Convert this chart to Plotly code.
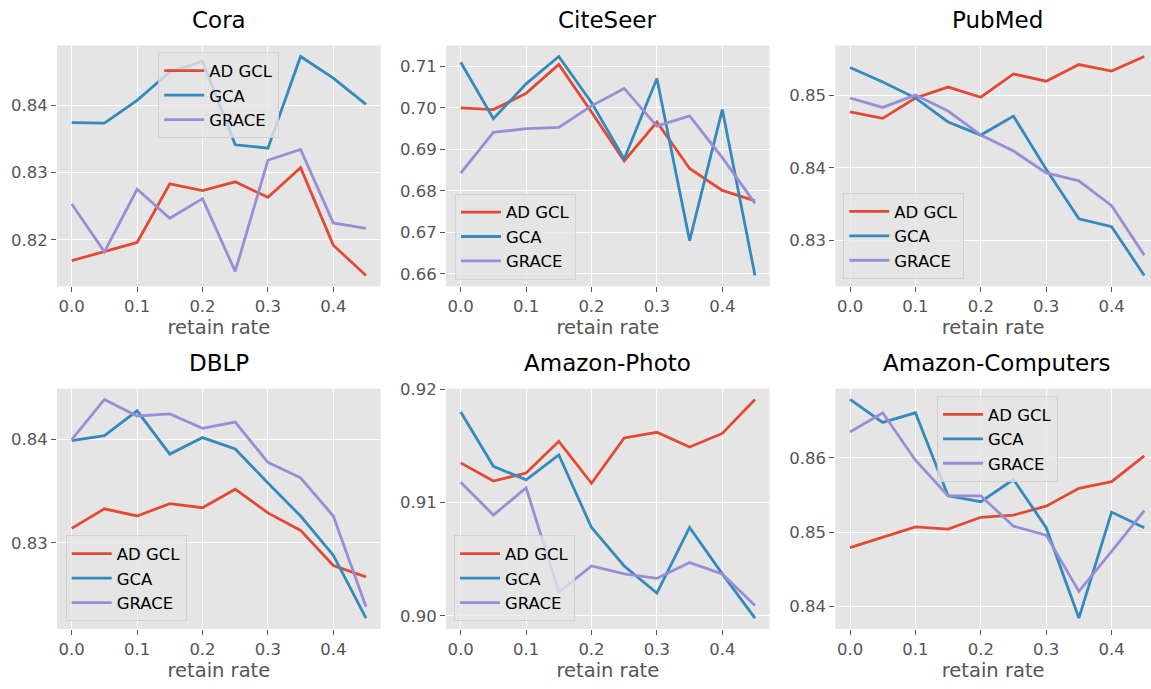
import plotly.graph_objects as go

retain_rate = [0.0, 0.05, 0.10, 0.15, 0.20, 0.25, 0.30, 0.35, 0.40, 0.45]
methods = ["AD GCL", "GCA", "GRACE"]
datasets = ["Cora", "CiteSeer", "PubMed", "DBLP", "Amazon-Photo", "Amazon-Computers"]

cora_adgcl = [0.8169, 0.8183, 0.8196, 0.8283, 0.8273, 0.8286, 0.8263, 0.8307, 0.8192, 0.8147]
cora_gca = [0.8374, 0.8373, 0.8407, 0.8449, 0.8465, 0.8341, 0.8336, 0.8472, 0.8440, 0.8401]
cora_grace = [0.8253, 0.8182, 0.8275, 0.8232, 0.8261, 0.8153, 0.8318, 0.8334, 0.8225, 0.8217]

citeseer_adgcl = [0.7000, 0.6996, 0.7035, 0.7105, 0.6990, 0.6872, 0.6966, 0.6854, 0.6801, 0.6776]
citeseer_gca = [0.7110, 0.6974, 0.7058, 0.7124, 0.7013, 0.6877, 0.7071, 0.6680, 0.6996, 0.6596]
citeseer_grace = [0.6843, 0.6941, 0.6950, 0.6953, 0.7005, 0.7047, 0.6956, 0.6981, 0.6880, 0.6770]

pubmed_adgcl = [0.8477, 0.8468, 0.8496, 0.8511, 0.8497, 0.8529, 0.8519, 0.8542, 0.8533, 0.8553]
pubmed_gca = [0.8538, 0.8518, 0.8496, 0.8463, 0.8445, 0.8471, 0.8398, 0.8330, 0.8319, 0.8252]
pubmed_grace = [0.8496, 0.8483, 0.8500, 0.8478, 0.8445, 0.8423, 0.8393, 0.8382, 0.8348, 0.8280]

dblp_adgcl = [0.8314, 0.8333, 0.8326, 0.8338, 0.8334, 0.8352, 0.8329, 0.8312, 0.8278, 0.8267]
dblp_gca = [0.8399, 0.8404, 0.8428, 0.8386, 0.8402, 0.8391, 0.8358, 0.8326, 0.8288, 0.8227]
dblp_grace = [0.8400, 0.8439, 0.8423, 0.8425, 0.8411, 0.8417, 0.8378, 0.8363, 0.8326, 0.8238]

photo_adgcl = [0.9135, 0.9119, 0.9126, 0.9154, 0.9117, 0.9157, 0.9162, 0.9149, 0.9161, 0.9191]
photo_gca = [0.9180, 0.9132, 0.9120, 0.9142, 0.9078, 0.9044, 0.9020, 0.9078, 0.9037, 0.8998]
photo_grace = [0.9118, 0.9089, 0.9113, 0.9021, 0.9044, 0.9037, 0.9033, 0.9047, 0.9037, 0.9009]

computers_adgcl = [0.8479, 0.8493, 0.8507, 0.8504, 0.8520, 0.8523, 0.8535, 0.8559, 0.8568, 0.8603]
computers_gca = [0.8679, 0.8648, 0.8661, 0.8549, 0.8541, 0.8571, 0.8506, 0.8384, 0.8527, 0.8506]
computers_grace = [0.8635, 0.8661, 0.8597, 0.8549, 0.8549, 0.8508, 0.8496, 0.8420, 0.8474, 0.8529]

series = [
    [cora_adgcl, cora_gca, cora_grace],
    [citeseer_adgcl, citeseer_gca, citeseer_grace],
    [pubmed_adgcl, pubmed_gca, pubmed_grace],
    [dblp_adgcl, dblp_gca, dblp_grace],
    [photo_adgcl, photo_gca, photo_grace],
    [computers_adgcl, computers_gca, computers_grace],
]

colors = ["#E24A33", "#348ABD", "#988ED5"]
W, H = 1151, 689
FONT = "DejaVu Sans"
TICK = "#555555"

# axis domains in pixels (left, right) and (top, bottom)
col_px = [(57.0, 380.7), (446.0, 769.7), (835.3, 1151.0)]
row_px = [(38.0, 281.7), (385.0, 628.3)]
# legend placement: (x_px, y_px, xanchor, yanchor)
legend_pos = [
    (218.7, 45.0, "center", "top"),
    (455.0, 275.0, "left", "bottom"),
    (843.3, 274.3, "left", "bottom"),
    (65.7, 620.7, "left", "bottom"),
    (454.0, 620.7, "left", "bottom"),
    (997.5, 392.7, "center", "top"),
]

fig = go.Figure()
layout = dict(
    width=W, height=H,
    margin=dict(l=0, r=0, t=0, b=0),
    paper_bgcolor="white",
    plot_bgcolor="#E5E5E5",
    font=dict(family=FONT, size=16, color=TICK),
    annotations=[],
)

for i, name in enumerate(datasets):
    r, c = divmod(i, 3)
    n = i + 1
    xa = "x" if n == 1 else f"x{n}"
    ya = "y" if n == 1 else f"y{n}"
    lg = "legend" if n == 1 else f"legend{n}"
    for j, m in enumerate(methods):
        fig.add_trace(go.Scatter(
            x=retain_rate, y=series[i][j], mode="lines", name=m,
            line=dict(color=colors[j], width=2.8),
            xaxis=xa, yaxis=ya, legend=lg, showlegend=True,
        ))
    allv = [v for s in series[i] for v in s]
    lo, hi = min(allv), max(allv)
    pad = 0.05 * (hi - lo)
    l, rr = col_px[c]
    t, b = row_px[r]
    xr_hi = 0.4725 if c < 2 else -0.0225 + (0.495) * (rr - l) / (1159.0 - 835.3)
    common = dict(
        showline=False, zeroline=False, showgrid=True,
        gridcolor="white", gridwidth=1.3,
        ticks="outside", ticklen=5, tickwidth=1.2, tickcolor=TICK,
        tickfont=dict(family=FONT, size=16.5, color=TICK),
    )
    layout["xaxis" if n == 1 else f"xaxis{n}"] = dict(
        common, domain=[l / W, rr / W], anchor=ya,
        range=[-0.0225, xr_hi], tickmode="array",
        tickvals=[0.0, 0.1, 0.2, 0.3, 0.4], ticktext=["0.0", "0.1", "0.2", "0.3", "0.4"],
        title=dict(text="retain rate", font=dict(family=FONT, size=19.5, color=TICK), standoff=2),
    )
    layout["yaxis" if n == 1 else f"yaxis{n}"] = dict(
        common, domain=[1 - b / H, 1 - t / H], anchor=xa,
        range=[lo - pad, hi + pad], dtick=0.01, tick0=0.0, tickformat=".2f",
    )
    lx, ly, xan, yan = legend_pos[i]
    layout[lg] = dict(
        x=lx / W, y=1 - ly / H, xanchor=xan, yanchor=yan,
        xref="paper", yref="paper",
        bgcolor="rgba(229,229,229,0.8)", bordercolor="rgba(204,204,204,0.8)", borderwidth=1,
        font=dict(family=FONT, size=16.5, color="black"),
        tracegroupgap=0, itemclick=False, itemwidth=40,
    )
    layout["annotations"].append(dict(
        text=name, xref="paper", yref="paper",
        x=(l + rr) / 2 / W if c < 2 else (835.3 + 1159.0) / 2 / W,
        y=1 - (t - 25.5) / H, xanchor="center", yanchor="middle",
        showarrow=False, font=dict(family=FONT, size=23, color="black"),
    ))

fig.update_layout(**layout)
fig.write_html(
    "out.html",
    config={"displayModeBar": False},
    post_script="document.body.style.margin='0px';document.body.style.overflow='hidden';",
)
